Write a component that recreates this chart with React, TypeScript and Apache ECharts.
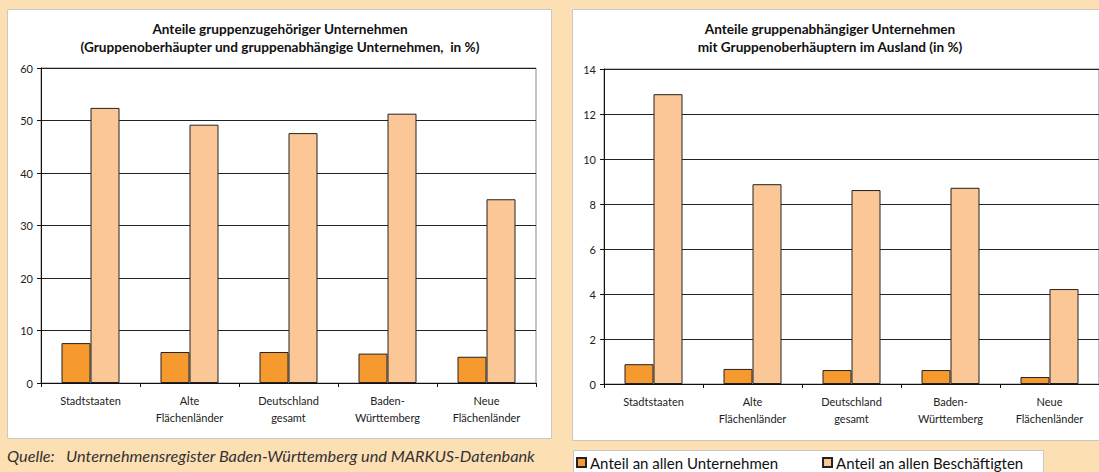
import React, { useEffect, useRef } from "react";
import * as echarts from "echarts";

const categories = [
  "Stadtstaaten",
  "Alte\nFlächenländer",
  "Deutschland\ngesamt",
  "Baden-\nWürttemberg",
  "Neue\nFlächenländer",
];
const seriesNames = ["Anteil an allen Unternehmen", "Anteil an allen Beschäftigten"];
const leftUnternehmen = [7.6, 5.9, 5.9, 5.6, 5.0];
const leftBeschaeftigte = [52.4, 49.2, 47.6, 51.3, 35.0];
const rightUnternehmen = [0.88, 0.67, 0.62, 0.62, 0.31];
const rightBeschaeftigte = [12.88, 8.88, 8.62, 8.72, 4.22];
const leftTitle = "Anteile gruppenzugehöriger Unternehmen\n(Gruppenoberhäupter und gruppenabhängige Unternehmen,  in %)";
const rightTitle = "Anteile gruppenabhängiger Unternehmen\nmit Gruppenoberhäuptern im Ausland (in %)";
const sourceText = "Quelle:   Unternehmensregister Baden-Württemberg und MARKUS-Datenbank";

const FONT = "Lato, 'Open Sans', sans-serif";
const ORANGE = "#F6992F";
const LIGHT = "#FCC797";
const BG = "#FDDFB4";

export default function App() {
  const ref = useRef<HTMLDivElement>(null);
  useEffect(() => {
    if (!ref.current) return;
    const chart = echarts.init(ref.current, null, { renderer: "svg" });
    const xAxisCommon = {
      type: "category" as const,
      data: categories,
      axisLine: { lineStyle: { color: "#111", width: 1 } },
      axisTick: { show: true, length: 4, lineStyle: { color: "#111" } },
      axisLabel: {
        interval: 0,
        color: "#222",
        fontFamily: FONT,
        fontSize: 11,
        lineHeight: 17,
        margin: 9,
      },
    };
    const yAxisCommon = {
      type: "value" as const,
      axisLine: { show: true, lineStyle: { color: "#111", width: 1 } },
      axisTick: { show: true, length: 4, lineStyle: { color: "#111" } },
      axisLabel: { color: "#222", fontFamily: FONT, fontSize: 11, margin: 8 },
      splitLine: { show: true, lineStyle: { color: "#222", width: 1 } },
    };
    const barStyle = (color: string) => ({
      color,
      borderColor: "#222",
      borderWidth: 1,
    });
    chart.setOption({
      animation: false,
      backgroundColor: BG,
      textStyle: { fontFamily: FONT },
      graphic: [
        { type: "rect", z: -10, shape: { x: 7.5, y: 9.5, width: 544, height: 429 }, style: { fill: "#fff", stroke: "#c8c8c8", lineWidth: 1 } },
        { type: "rect", z: -10, shape: { x: 572.5, y: 9.5, width: 540, height: 431 }, style: { fill: "#fff", stroke: "#c8c8c8", lineWidth: 1 } },
        { type: "rect", z: -10, shape: { x: 573.5, y: 450.5, width: 470, height: 30 }, style: { fill: "#fff", stroke: "#c8c8c8", lineWidth: 1 } },
        {
          type: "text",
          x: 280,
          y: 20,
          style: { text: leftTitle, fontFamily: FONT, fontWeight: "bold", fontSize: 13.6, lineHeight: 18, fill: "#111", align: "center" },
        },
        {
          type: "text",
          x: 830,
          y: 20,
          style: { text: rightTitle, fontFamily: FONT, fontWeight: "bold", fontSize: 13.6, lineHeight: 18, fill: "#111", align: "center" },
        },
        {
          type: "text",
          x: 7,
          y: 447,
          style: { text: sourceText, fontFamily: FONT, fontStyle: "italic", fontSize: 16.3, fill: "#333" },
        },
      ],
      legend: {
        left: 576,
        top: 455,
        padding: 0,
        itemWidth: 9,
        itemHeight: 9,
        itemGap: 44,
        icon: "rect",
        data: seriesNames,
        textStyle: { fontFamily: FONT, fontSize: 15, color: "#111", padding: [0, 0, 0, -1] },
      },
      grid: [
        { left: 41, top: 68, width: 495, height: 315, show: true, borderColor: "#888", borderWidth: 1, backgroundColor: "#fff" },
        { left: 604, top: 69, width: 498, height: 315, show: true, borderColor: "#888", borderWidth: 1, backgroundColor: "#fff" },
      ],
      xAxis: [
        { ...xAxisCommon, gridIndex: 0 },
        { ...xAxisCommon, gridIndex: 1 },
      ],
      yAxis: [
        { ...yAxisCommon, gridIndex: 0, min: 0, max: 60, interval: 10 },
        { ...yAxisCommon, gridIndex: 1, min: 0, max: 14, interval: 2 },
      ],
      series: [
        { name: seriesNames[0], type: "bar", xAxisIndex: 0, yAxisIndex: 0, data: leftUnternehmen, barWidth: 29, barGap: "0%", itemStyle: barStyle(ORANGE) },
        { name: seriesNames[1], type: "bar", xAxisIndex: 0, yAxisIndex: 0, data: leftBeschaeftigte, barWidth: 29, barGap: "0%", itemStyle: barStyle(LIGHT) },
        { name: seriesNames[0], type: "bar", xAxisIndex: 1, yAxisIndex: 1, data: rightUnternehmen, barWidth: 29, barGap: "0%", itemStyle: barStyle(ORANGE) },
        { name: seriesNames[1], type: "bar", xAxisIndex: 1, yAxisIndex: 1, data: rightBeschaeftigte, barWidth: 29, barGap: "0%", itemStyle: barStyle(LIGHT) },
      ],
    });
    return () => chart.dispose();
  }, []);
  return (
    <div
      ref={ref}
      style={{ position: "fixed", left: 0, top: 0, width: 1099, height: 472 }}
    />
  );
}
